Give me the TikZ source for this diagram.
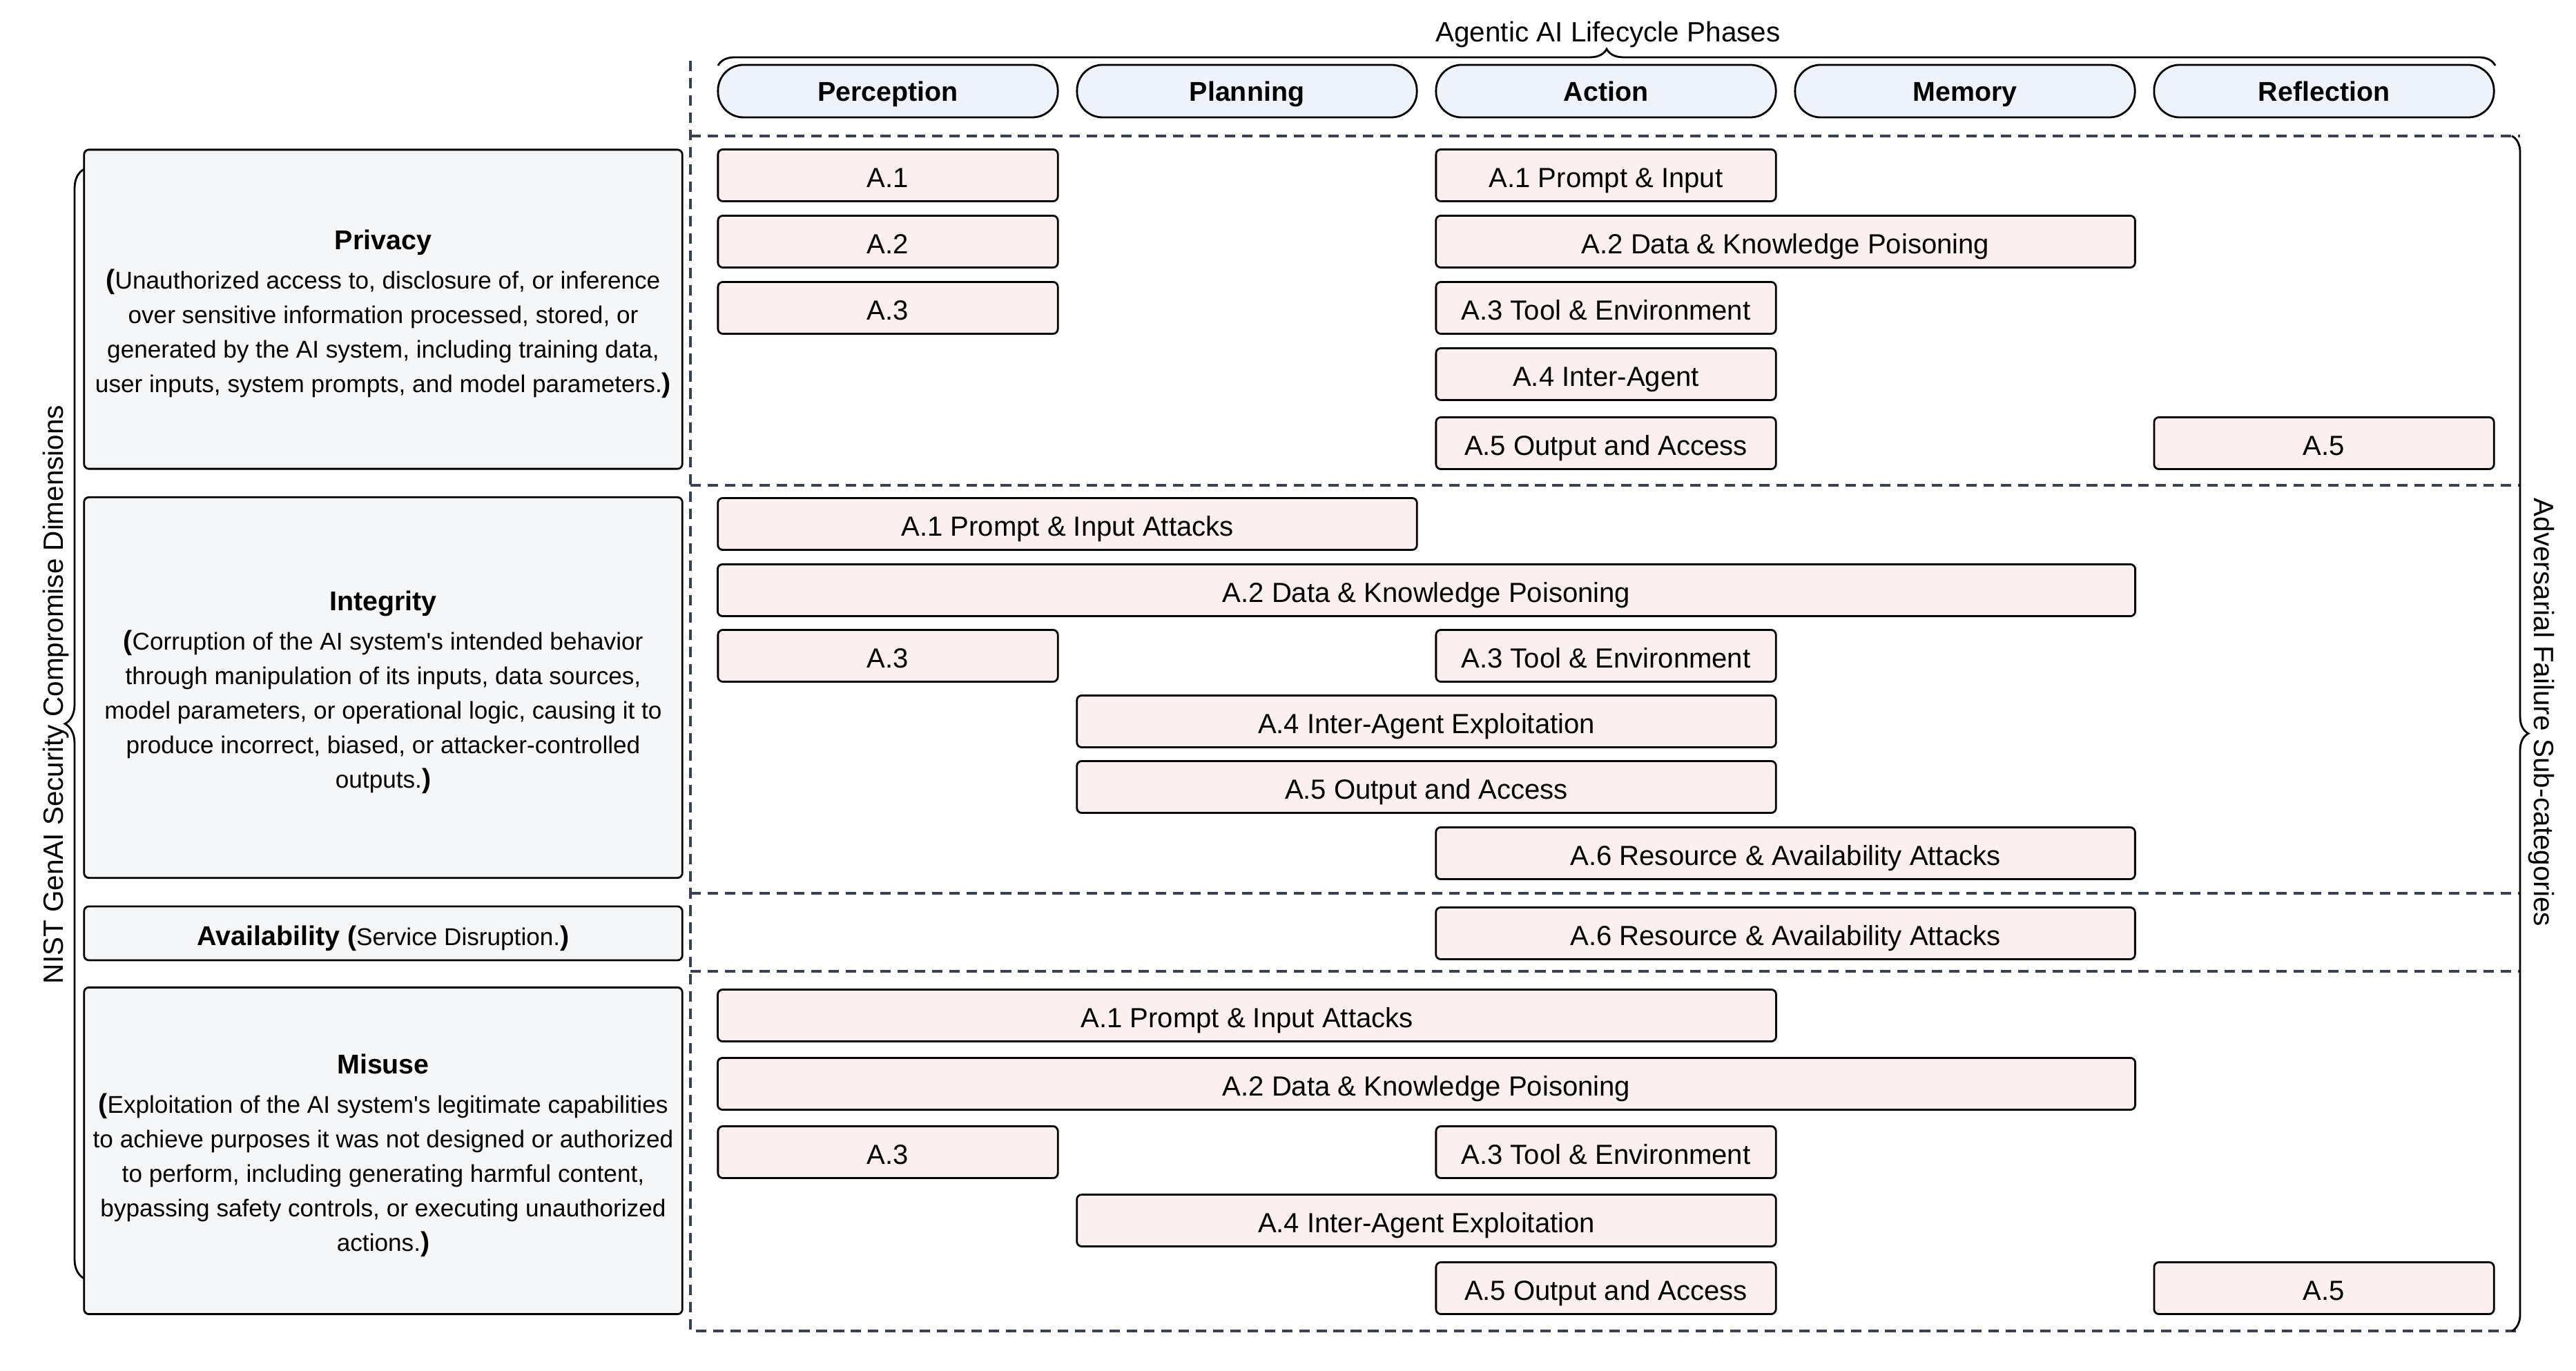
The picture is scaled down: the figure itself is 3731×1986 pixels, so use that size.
\documentclass[tikz,border=0pt]{standalone}
\usepackage{fontspec}
\setmainfont{Liberation Sans}[Ligatures=TeXOff]
\usetikzlibrary{decorations.pathreplacing}

\definecolor{phasefill}{HTML}{EEF3FB}
\definecolor{attackfill}{HTML}{FCEFEF}
\definecolor{dimfill}{HTML}{F5F6F8}
\definecolor{lanegray}{HTML}{394150}

\newcommand{\boxfont}{\fontsize{11.4}{13.7}\selectfont}
\newcommand{\descfont}{\fontsize{10}{14.2}\selectfont}
\newcommand{\headfont}{\bfseries\fontsize{11.2}{13.4}\selectfont}
\newcommand{\bopen}{{\bfseries\fontsize{11.2}{13}\selectfont(}}
\newcommand{\bclose}{{\bfseries\fontsize{11.2}{13}\selectfont)}}
\newcommand{\headstrut}{\rule{0pt}{12pt}}

\begin{document}
\begin{tikzpicture}[x=0.01cm, y=-0.01cm,
    phase/.style={draw=black, line width=0.8pt, fill=phasefill, rounded corners=0.37cm, minimum width=4.92cm, minimum height=0.76cm, inner sep=0pt, text height=8.2pt, text depth=0pt, font=\headfont},
    attack/.style={draw=black, line width=0.8pt, fill=attackfill, rounded corners=0.07cm, minimum width=4.92cm, minimum height=0.75cm, inner sep=0pt, text height=10pt, text depth=0pt, font=\boxfont},
    dimbox/.style={draw=black, line width=0.8pt, fill=dimfill, rounded corners=0.07cm, minimum width=8.66cm, inner sep=0pt, align=center, font=\descfont},
    laneline/.style={draw=lanegray, line width=1.3pt, dash pattern=on 4.3pt off 2.8pt},
    curly/.style={draw=black, line width=0.8pt, decorate, decoration={brace, amplitude=#1}},
    sidelabel/.style={font=\fontsize{11.5}{13.8}\selectfont, anchor=base, inner sep=0pt}]
        \useasboundingbox (0,0) rectangle (3731,1986);
        % lanes
        \draw[laneline] (1000,88) -- (1000,1928) -- (3650,1928);
        \draw[laneline] (1000,197) -- (3650,197);
        \foreach \y in {703,1294,1407}
            \draw[laneline] (1000,\y) -- (3650,\y);
        % lifecycle phases
        \node[sidelabel] (phasetitle) at (2329,61) {Agentic AI Lifecycle Phases};
        \draw[curly=0.24cm] (1040,95) -- (3614,95);
        \node[phase] (perception) at (1286,132) {Perception};
        \node[phase] (planning) at (1806,132) {Planning};
        \node[phase] (action) at (2326,132) {Action};
        \node[phase] (memory) at (2846,132) {Memory};
        \node[phase] (reflection) at (3366,132) {Reflection};
        % dimensions
        \node[sidelabel, rotate=90] (dimtitle) at (91,1006) {NIST GenAI Security Compromise Dimensions};
        \draw[curly=0.28cm] (122,1852) -- (122,245);
        \node[dimbox, minimum height=4.62cm] (privacy) at (555,448) {{\headfont\headstrut Privacy}\\[2pt]
            \bopen Unauthorized access to, disclosure of, or inference\\
            over sensitive information processed, stored, or\\
            generated by the AI system, including training data,\\
            user inputs, system prompts, and model parameters.\bclose};
        \node[dimbox, minimum height=5.51cm] (integrity) at (555,996) {{\headfont\headstrut Integrity}\\[2pt]
            \bopen Corruption of the AI system's intended behavior\\
            through manipulation of its inputs, data sources,\\
            model parameters, or operational logic, causing it to\\
            produce incorrect, biased, or attacker-controlled\\
            outputs.\bclose};
        \node[dimbox, minimum height=0.78cm] (availability) at (555,1352) {{\headfont\headstrut Availability }\bopen Service Disruption.\bclose};
        \node[dimbox, minimum height=4.73cm] (misuse) at (555,1667) {{\headfont\headstrut Misuse}\\[2pt]
            \bopen Exploitation of the AI system's legitimate capabilities\\
            to achieve purposes it was not designed or authorized\\
            to perform, including generating harmful content,\\
            bypassing safety controls, or executing unauthorized\\
            actions.\bclose};
        % sub-categories
        \node[sidelabel, rotate=-90] (subtitle) at (3670,1032) {Adversarial Failure Sub-categories};
        \draw[curly=0.24cm] (3638,197) -- (3638,1928);
        % privacy rows
        \node[attack] (pvA1) at (1286,254) {A.1};
        \node[attack] (pvA1act) at (2326,254) {A.1 Prompt \& Input};
        \node[attack] (pvA2) at (1286,350) {A.2};
        \node[attack, minimum width=10.12cm] (pvA2act) at (2586,350) {A.2 Data \& Knowledge Poisoning};
        \node[attack] (pvA3) at (1286,446) {A.3};
        \node[attack] (pvA3act) at (2326,446) {A.3 Tool \& Environment};
        \node[attack] (pvA4act) at (2326,542) {A.4 Inter-Agent};
        \node[attack] (pvA5act) at (2326,642) {A.5 Output and Access};
        \node[attack] (pvA5ref) at (3366,642) {A.5};
        % integrity rows
        \node[attack, minimum width=10.12cm] (inA1) at (1546,759) {A.1 Prompt \& Input Attacks};
        \node[attack, minimum width=20.52cm] (inA2) at (2066,855) {A.2 Data \& Knowledge Poisoning};
        \node[attack] (inA3) at (1286,950) {A.3};
        \node[attack] (inA3act) at (2326,950) {A.3 Tool \& Environment};
        \node[attack, minimum width=10.12cm] (inA4) at (2066,1045) {A.4 Inter-Agent Exploitation};
        \node[attack, minimum width=10.12cm] (inA5) at (2066,1140) {A.5 Output and Access};
        \node[attack, minimum width=10.12cm] (inA6) at (2586,1236) {A.6 Resource \& Availability Attacks};
        % availability row
        \node[attack, minimum width=10.12cm] (avA6) at (2586,1352) {A.6 Resource \& Availability Attacks};
        % misuse rows
        \node[attack, minimum width=15.32cm] (muA1) at (1806,1471) {A.1 Prompt \& Input Attacks};
        \node[attack, minimum width=20.52cm] (muA2) at (2066,1570) {A.2 Data \& Knowledge Poisoning};
        \node[attack] (muA3) at (1286,1669) {A.3};
        \node[attack] (muA3act) at (2326,1669) {A.3 Tool \& Environment};
        \node[attack, minimum width=10.12cm] (muA4) at (2066,1768) {A.4 Inter-Agent Exploitation};
        \node[attack] (muA5act) at (2326,1866) {A.5 Output and Access};
        \node[attack] (muA5ref) at (3366,1866) {A.5};
\end{tikzpicture}
\end{document}
